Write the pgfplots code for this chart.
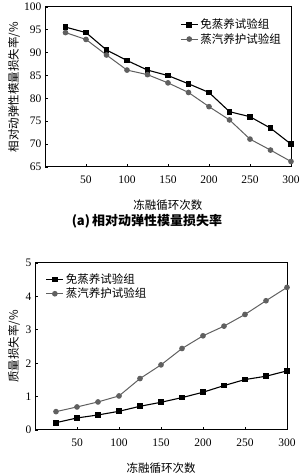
\documentclass[border=0pt]{standalone}
\usepackage{pgfplots}
\pgfplotsset{compat=1.18}
\usepackage{fontspec}
\setmainfont{Liberation Serif}
\newfontfamily\tnr{Liberation Serif}
\newfontfamily\cjk{Noto Sans CJK SC}
\definecolor{grayline}{HTML}{606060}
\begin{document}
\begin{tikzpicture}
\path[use as bounding box] (0pt,0pt) rectangle (300pt,474pt);
\pgfplotsset{
  every axis/.style={
    scale only axis, anchor=south west,
    tick align=inside, xtick pos=left, ytick pos=left,
    major tick length=3pt,
    axis line style={line width=1pt}, every tick/.style={line width=0.8pt,black},
    tick label style={font=\tnr\fontsize{11.5}{13}\selectfont},
    xticklabel style={yshift=-5pt},
    /pgf/number format/assume math mode=true,
    label style={font=\cjk\fontsize{11.5}{13}\selectfont},
    legend style={draw=none, fill=none, font=\cjk\fontsize{11.5}{13}\selectfont, row sep=-1pt},
    legend cell align=left,
    xmin=0, xmax=300, xtick={50,100,...,300},
    xlabel style={at={(axis description cs:0.5,0)}, anchor=center},
    ylabel style={at={(axis description cs:0,0.5)}, anchor=center},
  },
  s1/.style={black, line width=1.1pt, mark=square*, mark size=2.3pt},
  s2/.style={grayline, line width=1pt, mark=*, mark size=2.3pt, mark options={fill=grayline}},
}
\begin{axis}[at={(45pt,307pt)}, width=246pt, height=160pt,
  ymin=65, ymax=100, ytick={65,70,...,100},
  xlabel={冻融循环次数}, ylabel={相对动弹性模量损失率/\%},
  xlabel style={yshift=-38pt}, ylabel style={yshift=31pt},
  legend style={at={(0.98,0.95)}, anchor=north east}]
\addplot[s1] coordinates {(25,95.6)(50,94.4)(75,90.6)(100,88.3)(125,86.2)(150,85.0)(175,83.2)(200,81.3)(225,77.1)(250,76.0)(275,73.5)(300,70.0)};
\addlegendentry{免蒸养试验组}
\addplot[s2] coordinates {(25,94.4)(50,92.9)(75,89.5)(100,86.2)(125,85.2)(150,83.4)(175,81.3)(200,78.2)(225,75.3)(250,71.1)(275,68.7)(300,66.2)};
\addlegendentry{蒸汽养护试验组}
\end{axis}
\node[font=\cjk\fontsize{13}{15}\selectfont\bfseries] at (147pt,253pt) {(a)\,相对动弹性模量损失率};
\begin{axis}[at={(35pt,44pt)}, width=252pt, height=167pt,
  ymin=0, ymax=5, ytick={0,1,...,5},
  xlabel={冻融循环次数}, ylabel={质量损失率/\%},
  xlabel style={yshift=-38pt}, ylabel style={yshift=21pt},
  legend style={at={(0.03,0.96)}, anchor=north west}]
\addplot[s1] coordinates {(25,0.22)(50,0.36)(75,0.45)(100,0.56)(125,0.71)(150,0.83)(175,0.97)(200,1.13)(225,1.33)(250,1.51)(275,1.61)(300,1.77)};
\addlegendentry{免蒸养试验组}
\addplot[s2] coordinates {(25,0.55)(50,0.69)(75,0.84)(100,1.02)(125,1.54)(150,1.95)(175,2.44)(200,2.82)(225,3.11)(250,3.46)(275,3.87)(300,4.27)};
\addlegendentry{蒸汽养护试验组}
\end{axis}
\end{tikzpicture}
\end{document}
